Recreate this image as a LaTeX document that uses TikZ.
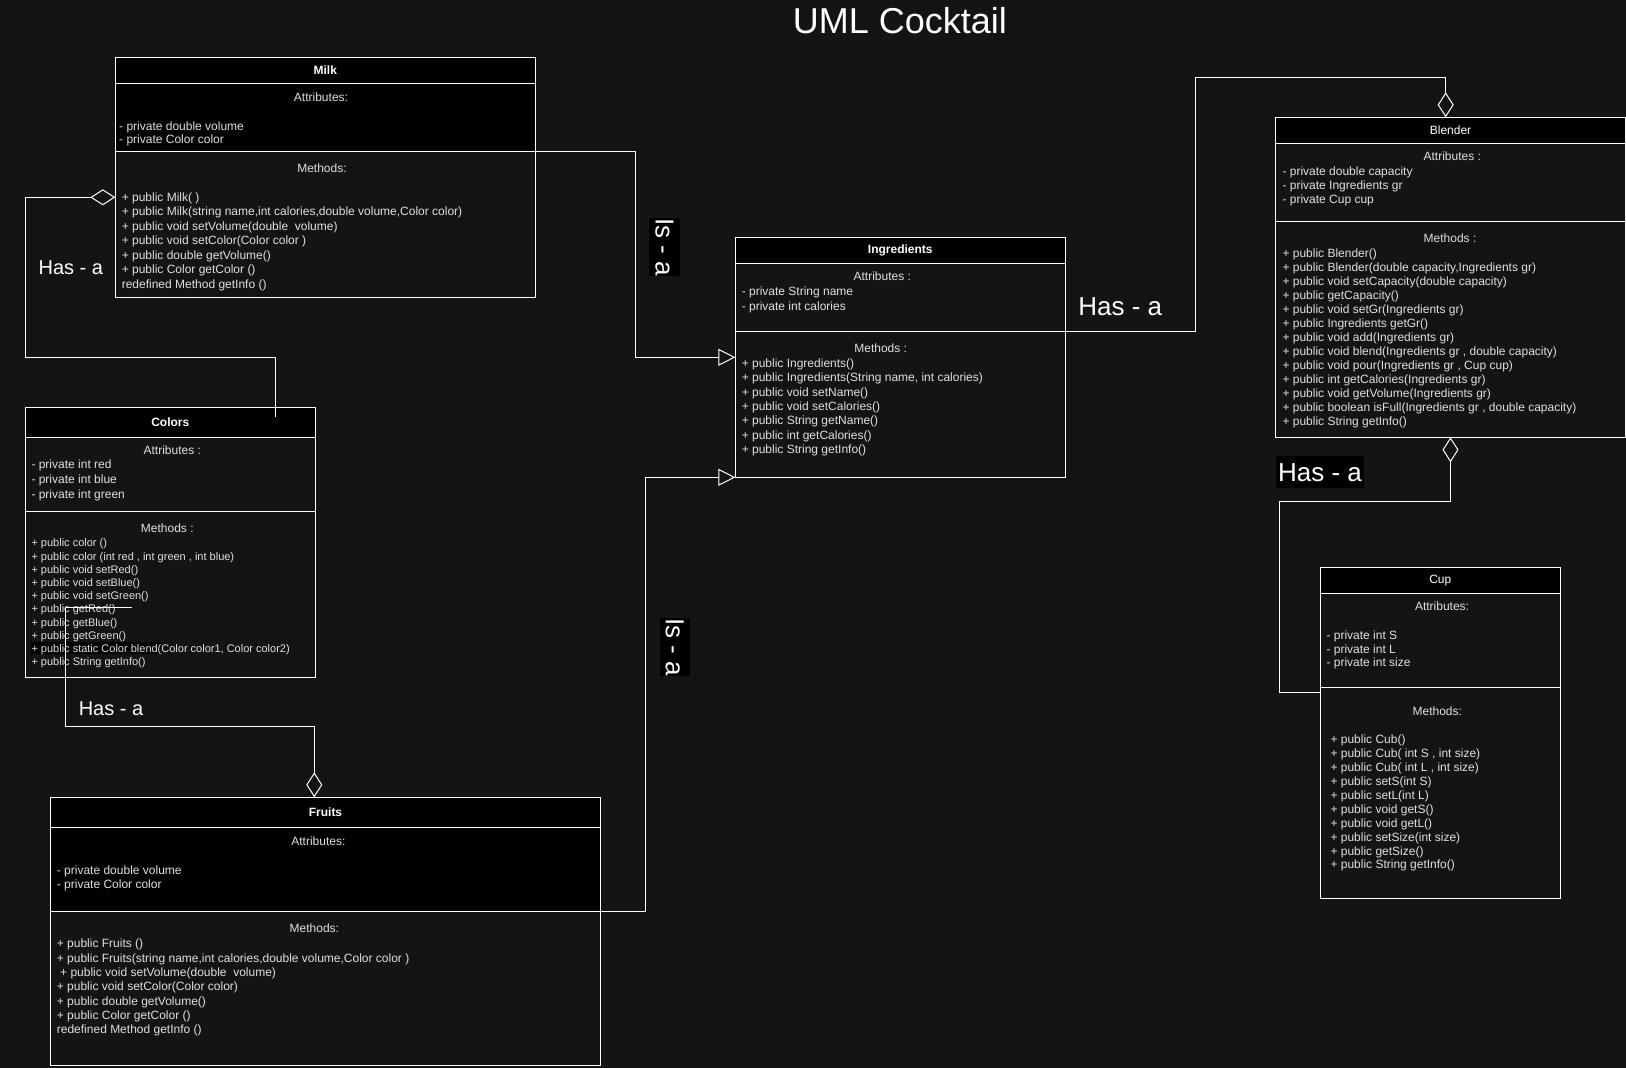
\documentclass[tikz,border=0pt]{standalone}
\usepackage{fontspec}
\setmainfont{Liberation Sans}
\usetikzlibrary{arrows.meta}
\definecolor{bgDark}{HTML}{141414}
\definecolor{txtLight}{HTML}{E0E0E0}

\begin{document}
\begin{tikzpicture}[
    x=1pt, y=-1pt, line width=1pt,
    hdr/.style={draw=white, fill=black, text=white, anchor=north west, inner sep=0, outer sep=0, font=\fontsize{12}{14}\selectfont\bfseries},
    hdrplain/.style={hdr, font=\fontsize{12}{14}\selectfont},
    part/.style={draw=white, anchor=north west, inner sep=0, outer sep=0},
    sectitle/.style={text=txtLight, inner sep=0, font=\fontsize{12}{14}\selectfont},
    members/.style={text=txtLight, anchor=north west, inner sep=0, align=left},
    rel/.style={text=white, inner sep=0, font=\fontsize{26}{30}\selectfont},
    isa/.style={draw=white, -{Triangle[open, length=17pt, width=17pt]}},
    hasa/.style={draw=white, -{Diamond[open, length=25pt, width=16pt]}},
]
\fill[bgDark] (0,0) rectangle (1626,1068);
\useasboundingbox (0,0) rectangle (1626,1068);

\node[text=white, font=\fontsize{36}{40}\selectfont] (title) at (900,20.5) {UML Cocktail};

\node[hdr, minimum width=420pt, minimum height=26pt] (milk) at (115.3,57.3) {Milk};
\node[part, fill=black, minimum width=420pt, minimum height=68pt] (milkA) at (milk.south west) {};
\node[part, minimum width=420pt, minimum height=146pt] (milkM) at (milkA.south west) {};
\node[sectitle] (milkAt) at (321,97.3) {Attributes:};
\node[members, font=\fontsize{12}{13.3}\selectfont] (milkAl) at (118.7,120.7) {\strut- private double volume\\- private Color color};
\node[sectitle] (milkMt) at (322,168.3) {Methods:};
\node[members, font=\fontsize{12}{14.55}\selectfont] (milkMl) at (121.3,190.5) {\strut+ public Milk( )\\+ public Milk(string name,int calories,double volume,Color color)\\+ public void setVolume(double\ \ volume)\\+ public void setColor(Color color )\\+ public double getVolume()\\+ public Color getColor ()\\redefined Method getInfo ()};

\node[hdr, minimum width=290pt, minimum height=30pt] (colors) at (25.3,407.3) {Colors};
\node[part, minimum width=290pt, minimum height=74pt] (colorsA) at (colors.south west) {};
\node[part, minimum width=290pt, minimum height=166pt] (colorsM) at (colorsA.south west) {};
\fill[black] (31,642.3) rectangle (161,654.3);
\node[sectitle] (colorsAt) at (172.3,450.7) {Attributes :};
\node[members, font=\fontsize{12}{14.7}\selectfont] (colorsAl) at (31,458) {\strut- private int red\\- private int blue\\- private int green};
\node[sectitle] (colorsMt) at (167.3,528.3) {Methods :};
\node[members, font=\fontsize{11}{13.18}\selectfont] (colorsMl) at (31,537.2) {\strut+ public color ()\\+ public color (int red , int green , int blue)\\+ public void setRed()\\+ public void setBlue()\\+ public void setGreen()\\+ public getRed()\\+ public getBlue()\\+ public getGreen()\\+ public static Color blend(Color color1, Color color2)\\+ public String getInfo()};

\node[hdr, minimum width=550pt, minimum height=30pt] (fruits) at (50.5,797.3) {Fruits};
\node[part, fill=black, minimum width=550pt, minimum height=83.7pt] (fruitsA) at (fruits.south west) {};
\node[part, minimum width=550pt, minimum height=154.3pt] (fruitsM) at (fruitsA.south west) {};
\node[sectitle] (fruitsAt) at (318.4,841) {Attributes:};
\node[members, font=\fontsize{12}{14}\selectfont] (fruitsAl) at (56.4,864.2) {\strut- private double volume\\- private Color color};
\node[sectitle] (fruitsMt) at (314.4,928.7) {Methods:};
\node[members, font=\fontsize{12}{14.3}\selectfont] (fruitsMl) at (56.4,937.3) {\strut+ public Fruits ()\\+ public Fruits(string name,int calories,double volume,Color color )\\\ + public void setVolume(double\ \ volume)\\+ public void setColor(Color color)\\+ public double getVolume()\\+ public Color getColor ()\\redefined Method getInfo ()};

\node[hdr, minimum width=330pt, minimum height=26pt] (ingr) at (735.3,237.3) {Ingredients};
\node[part, minimum width=330pt, minimum height=68pt] (ingrA) at (ingr.south west) {};
\node[part, minimum width=330pt, minimum height=146pt] (ingrM) at (ingrA.south west) {};
\node[sectitle] (ingrAt) at (882.3,276.7) {Attributes :};
\node[members, font=\fontsize{12}{14.7}\selectfont] (ingrAl) at (741.3,284.7) {\strut- private String name\\- private int calories};
\node[sectitle] (ingrMt) at (880.7,348.3) {Methods :};
\node[members, font=\fontsize{12}{14.43}\selectfont] (ingrMl) at (741.3,356.6) {\strut+ public Ingredients()\\+ public Ingredients(String name, int calories)\\+ public void setName()\\+ public void setCalories()\\+ public String getName()\\+ public int getCalories()\\+ public String getInfo()};

\node[hdrplain, minimum width=350pt, minimum height=26pt] (blender) at (1275.5,117.3) {Blender};
\node[part, minimum width=350pt, minimum height=78pt] (blenderA) at (blender.south west) {};
\node[part, minimum width=350pt, minimum height=216pt] (blenderM) at (blenderA.south west) {};
\node[sectitle] (blenderAt) at (1452.3,156.7) {Attributes :};
\node[members, font=\fontsize{12}{14}\selectfont] (blenderAl) at (1282,165.2) {\strut- private double capacity\\- private Ingredients gr\\- private Cup cup};
\node[sectitle] (blenderMt) at (1450,238.3) {Methods :};
\node[members, font=\fontsize{12}{14}\selectfont] (blenderMl) at (1282,247.5) {\strut+ public Blender()\\+ public Blender(double capacity,Ingredients gr)\\+ public void setCapacity(double capacity)\\+ public getCapacity()\\+ public void setGr(Ingredients gr)\\+ public Ingredients getGr()\\+ public void add(Ingredients gr)\\+ public void blend(Ingredients gr , double capacity)\\+ public void pour(Ingredients gr , Cup cup)\\+ public int getCalories(Ingredients gr)\\+ public void getVolume(Ingredients gr)\\+ public boolean isFull(Ingredients gr , double capacity)\\+ public String getInfo()};

\node[hdrplain, minimum width=239.5pt, minimum height=26pt] (cup) at (1320.5,567.3) {Cup};
\node[part, minimum width=239.5pt, minimum height=94pt] (cupA) at (cup.south west) {};
\node[part, minimum width=239.5pt, minimum height=210.7pt] (cupM) at (cupA.south west) {};
\node[sectitle] (cupAt) at (1442,606.7) {Attributes:};
\node[members, font=\fontsize{12}{13.7}\selectfont] (cupAl) at (1326,629.4) {\strut- private int S\\- private int L\\- private int size};
\node[sectitle] (cupMt) at (1437.3,711) {Methods:};
\node[members, font=\fontsize{12}{13.9}\selectfont] (cupMl) at (1330,733.6) {\strut+ public Cub()\\+ public Cub( int S , int size)\\+ public Cub( int L , int size)\\+ public setS(int S)\\+ public setL(int L)\\+ public void getS()\\+ public void getL()\\+ public setSize(int size)\\+ public getSize()\\+ public String getInfo()};

\coordinate (colorsHook) at (275.3,416.7);
\coordinate (colorsStub) at (131.7,607.3);

\draw[hasa] (colorsHook) |- (25.3,357.3) |- (milkM.west |- 0,197.3);
\draw[hasa] (colorsStub) -| (65,726) -| (fruits.north -| 314.3,0);
\draw[hasa] (ingrM.north east) -| (1195.3,77.3) -| (blender.north -| 1445.7,0);
\draw[hasa] (cupM.west |- 0,692.3) -| (1279.3,501.7) -| (blenderM.south);
\draw[isa] (milkA.south east) -| (635.7,357.3) -- (ingrM.west |- 0,357.3);
\draw[isa] (fruitsA.south east) -| (645,0 |- ingrM.south west) -- (ingrM.south west);

\node[rel, fill=black, rotate=-90, inner xsep=0pt, inner ysep=6pt] (isaMilk) at (664.5,247) {Is - a};
\node[rel, fill=black, rotate=-90, inner xsep=0pt, inner ysep=6pt] (isaFruits) at (674.7,647) {Is - a};
\node[rel, font=\fontsize{20}{24}\selectfont] (hasColors) at (70.8,268) {Has - a};
\node[rel, font=\fontsize{20}{24}\selectfont] (hasFruits) at (111,708.3) {Has - a};
\node[rel] (hasIngr) at (1120.3,306.7) {Has - a};
\node[rel, fill=black, inner xsep=2pt, inner ysep=7pt] (hasCup) at (1320,472.3) {Has - a};
\end{tikzpicture}
\end{document}
